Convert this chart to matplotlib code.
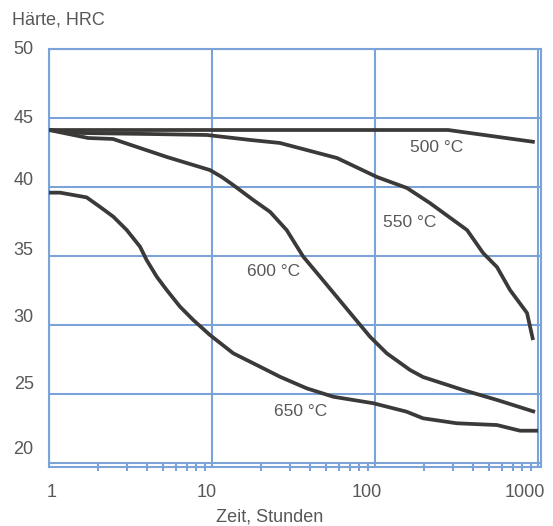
import matplotlib.pyplot as plt
import matplotlib.transforms as mtransforms
from matplotlib.ticker import LogLocator, NullFormatter

# --- Data ---
t_500 = [1, 281, 955]
h_500 = [44.13, 44.13, 43.26]

t_550 = [1, 1.62, 4.17, 9.3, 17.1, 26.1, 58.5, 103, 157, 217, 367, 460, 560, 673, 856, 932]
h_550 = [44.13, 43.91, 43.84, 43.77, 43.41, 43.19, 42.10, 40.72, 39.93, 38.84, 36.88, 35.22, 34.2, 32.54, 30.87, 28.91]

t_600 = [1, 1.74, 2.47, 5.3, 9.7, 11.5, 13.5, 17.9, 22.7, 28.7, 36.3, 46.0, 58.2, 73.6,
         93.2, 118, 164, 197, 347, 560, 959]
h_600 = [44.13, 43.55, 43.48, 42.17, 41.23, 40.72, 40.14, 39.06, 38.2, 36.88, 34.95, 33.5,
         32.05, 30.6, 29.15, 27.95, 26.74, 26.23, 25.29, 24.57, 23.70]

t_650 = [1, 1.17, 1.70, 2.05, 2.48, 3.0, 3.62, 3.97, 4.58, 5.27, 6.36, 7.68, 9.7, 13.5,
         19.7, 26.1, 38.1, 55.5, 97.6, 156, 197, 317, 560, 776, 1000]
h_650 = [39.59, 39.59, 39.25, 38.57, 37.85, 36.88, 35.67, 34.71, 33.5, 32.54, 31.33, 30.36,
         29.28, 27.95, 26.98, 26.25, 25.41, 24.80, 24.33, 23.72, 23.24, 22.88, 22.75, 22.34, 22.34]

curve_labels = ["500 °C", "550 °C", "600 °C", "650 °C"]
label_pos = [(240, 42.83), (164, 37.46), (23.7, 33.91), (35.2, 23.70)]

y_ticks = [20, 25, 30, 35, 40, 45, 50]
x_ticks = [1, 10, 100, 1000]
x_ticklabels = ["1", "10", "100", "1000"]

# --- Style ---
plt.rcParams['font.family'] = ['Liberation Sans', 'DejaVu Sans']
text_col = "#585858"
grid_col = "#7ba3d8"
line_col = "#3b3a39"

fig = plt.figure(figsize=(5.53, 5.26), dpi=100)
ax = fig.add_axes([49 / 553, 1 - 467 / 526, (541 - 49) / 553, (467 - 49) / 526])

for t, h in [(t_500, h_500), (t_550, h_550), (t_600, h_600), (t_650, h_650)]:
    ax.plot(t, h, color=line_col, linewidth=2.7, solid_joinstyle='round',
            solid_capstyle='butt', zorder=3)

for txt, (x, y) in zip(curve_labels, label_pos):
    ax.text(x, y, txt, ha='center', va='center', fontsize=12.5, color=text_col)

ax.set_xscale('log')
ax.set_xlim(1, 1043)
ax.set_ylim(19.71, 50)

# grid
ax.set_xticks(x_ticks)
ax.set_xticklabels(x_ticklabels)
ax.set_yticks(y_ticks)
ax.grid(True, which='major', color=grid_col, linewidth=1.5)
ax.xaxis.set_minor_locator(LogLocator(base=10, subs=range(2, 10)))
ax.xaxis.set_minor_formatter(NullFormatter())
ax.tick_params(axis='x', which='minor', direction='inout', length=6, width=1.5,
               color=grid_col)
ax.tick_params(axis='both', which='major', length=0, labelsize=13,
               labelcolor=text_col)
ax.tick_params(axis='x', which='major', pad=12)
ax.tick_params(axis='y', which='major', pad=11)
for s in ax.spines.values():
    s.set_color(grid_col)
    s.set_linewidth(1.5)

# tick labels in the original sit a little off the grid lines
x_shift = [3, -5, -8, -13]
y_shift = [15, 11, 9, 7, 8, 1, 1]
for tick, dx in zip(ax.xaxis.get_major_ticks(), x_shift):
    off = mtransforms.ScaledTranslation(dx / 100, 0, fig.dpi_scale_trans)
    tick.label1.set_transform(tick.label1.get_transform() + off)
for tick, dy in zip(ax.yaxis.get_major_ticks(), y_shift):
    off = mtransforms.ScaledTranslation(0, dy / 100, fig.dpi_scale_trans)
    tick.label1.set_transform(tick.label1.get_transform() + off)

fig.text(12 / 553, 1 - 20 / 526, "Härte, HRC", ha='left', va='center',
         fontsize=13, color=text_col)
fig.text(270 / 553, 1 - 517 / 526, "Zeit, Stunden", ha='center', va='center',
         fontsize=13, color=text_col)

plt.savefig("out.png", dpi=100)
